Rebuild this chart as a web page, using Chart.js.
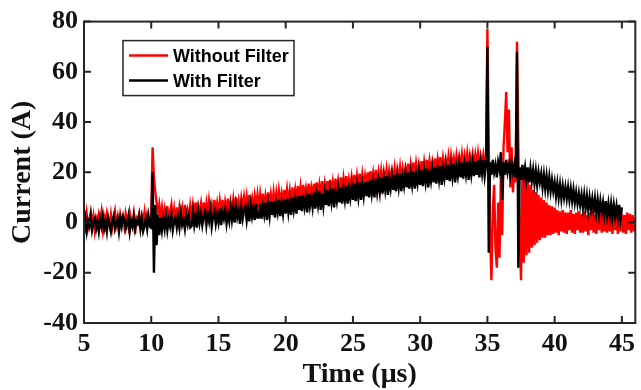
<!DOCTYPE html>
<html>
<head>
<meta charset="utf-8">
<script src="https://cdn.jsdelivr.net/npm/chart.js@4.4.1/dist/chart.umd.min.js"></script>
<style>
  html, body { margin: 0; padding: 0; background: #fff; }
  #wrap { width: 641px; height: 390px; }
</style>
</head>
<body>
<div id="wrap"><canvas id="currentChart" width="641" height="390"></canvas></div>
<script>
// scope traces, one sample every 0.1 us starting at 5 us
const T_START = 5;
const T_STEP = 0.1;

const X_TICKS = [5, 10, 15, 20, 25, 30, 35, 40, 45];
const Y_TICKS = [-40, -20, 0, 20, 40, 60, 80];

const SERIES_NAMES = ['Without Filter', 'With Filter'];

// current without filter [A], 5.0 .. 46.0 us (one row per us)
const WITHOUT_FILTER = [
  2, -1.5, 3.5, -2, 1, 4, -1, 2.5, -3, 1.5,
  -1, 3, 0, 4, -2.5, 2, -1, 3.5, 0.5, -1.5,
  3, -2, 1.5, 4.5, -1, 2, -3.5, 3, 0, 2.5,
  -1.5, 3.5, 0.5, -2, 4, 1, -1, 3, -4.5, 2,
  1, 3.5, -1.5, 2.5, 0, 4, -2, 3, 0.5, -1,
  2, 30, 18, 12, 8, 3, 7, 2, 6, 1,
  5, 0, 6.5, 1, 4, 7, 0.5, 5, -1, 6,
  1, 6, 2, 5.5, 0, 7, 2.5, 5, 1, 6.5,
  2, 7, 3, 8, 1.5, 6.5, 4, 7.5, 2, 8,
  3, 7.5, 2.5, 8.5, 4, 7, 2, 9, 3.5, 7.5,
  3, 8.5, 4, 9, 2.5, 8, 4.5, 9.5, 3, 8,
  4, 9, 3.5, 10, 5, 8.5, 4, 9.5, 5.5, 10,
  5, 10, 4.5, 11, 6, 9.5, 5, 10.5, 6.5, 11,
  5.5, 11, 6, 11.5, 5, 10.5, 7, 12, 6, 11,
  6.5, 12, 7, 11.5, 6, 12.5, 8, 11.5, 7, 13,
  7.5, 13, 8, 12.5, 7, 14, 9, 13, 8, 14.5,
  9, 14, 8.5, 15, 10, 13.5, 9, 15.5, 10.5, 14,
  10, 15.5, 9.5, 16, 11, 15, 10, 16.5, 11.5, 15.5,
  11, 16.5, 10.5, 17, 12, 16, 11, 17.5, 12.5, 16.5,
  12, 18, 11.5, 17.5, 13, 18.5, 12, 17, 13.5, 18,
  13.5, 19, 13, 18.5, 14, 19.5, 13, 19, 14.5, 18.5,
  14.5, 20, 14, 20.5, 15.5, 19.5, 14.5, 21, 16, 20,
  15.5, 20.5, 15, 20, 16.5, 21, 15.5, 20.5, 17, 20.5,
  16.5, 21.5, 16, 21, 17.5, 22, 16.5, 21.5, 18, 21.5,
  18, 23.5, 17.5, 23, 19, 24, 18, 23.5, 19.5, 23,
  19, 24.5, 18.5, 24, 20, 25, 19, 24.5, 20.5, 24,
  20, 25.5, 19.5, 25, 21, 26, 20, 25.5, 21.5, 25,
  21, 26, 20.5, 26.5, 22, 25.5, 21, 26.5, 22.5, 26,
  22, 27, 21.5, 26.5, 23, 27.5, 22, 26.5, 23, 27,
  22.5, 27, 23, 27.5, 22, 26.5, 23.5, 27, 22.5, 26,
  77, 30, -5, -23, 5, 15, -10, -18, 8, -14,
  18, -5, 30, 40, 52, 28, 45, 14, 30, 12,
  22, 16, 72, 30, -5, -23, 18, -16, 20, -13,
  17, -12, 15, -10, 13, -9, 12, -8, 11, -7,
  10, -6, 9, -6, 8, -5, 7, -5, 6.5, -4.5,
  6, -4, 5, -5, 4.5, -3.5, 5, -4, 4, -4.5,
  4, -3, 5, -4, 3.5, -4.5, 4, -3, 4.5, -4,
  3.5, -4, 4.5, -3.5, 3, -5, 4, -3, 5, -4,
  3, -4.5, 4, -3, 3.5, -4, 4.5, -3.5, 3, -4,
  4, -3.5, 3, -4.5, 3.5, -3, 4, -4.5, 3, -3.5,
  3.5, -4, 3, -4.5, 4, -3, 3.5, -4, 3, -3.5,
  2
];

// current with filter [A], 5.0 .. 45.0 us (one row per us)
const WITH_FILTER = [
  -2.5, 1.5, -3.5, 0.5, -1.5, 2.5, -3, 0, 1.5, -2.5,
  0.5, -3.5, 1.5, -1.5, 2.5, -2.5, 0.5, -3.5, 2, -0.5,
  -3.5, 0.5, 2.5, -2.5, -0.5, 1.5, -3.5, 1.5, -1.5, 2.5,
  1.5, -2.5, -0.5, 2.5, -3.5, 0.5, -1.5, 2.5, -2.5, 0.5,
  -0.5, 2.5, -2.5, 1.5, -3.5, -1.5, 1.5, -2.5, 2.5, -1.5,
  -2, 20, -20, 7, -9, 3, -5, 2, -3, 1.5,
  -2.5, 2.5, -3, 1, -1.5, 3, -3, 0.5, 2, -2,
  2, -2, 3.5, -1, 1, -2.5, 3, -0.5, 2.5, -2,
  -1.5, 4, -1, 3, -2, 4.5, 0, 3.5, -1, 2.5,
  4.5, -1, 3.5, 0.5, 5, -1.5, 2.5, 4.5, -0.5, 3,
  0, 5.5, -1, 4, 1.5, 5, -0.5, 3.5, 0.5, 6,
  1, 5.5, 0, 6.5, 2, 4.5, -0.5, 6, 1.5, 5,
  6.5, 1, 5.5, 0.5, 7, 2.5, 6, 1, 7.5, 2,
  2, 7.5, 1.5, 6.5, 3, 8, 1, 7, 2.5, 8.5,
  3, 8.5, 2, 7.5, 4, 9, 2.5, 8, 3.5, 9,
  3.5, 9.5, 4, 8.5, 3, 10, 5, 9, 3.5, 10.5,
  5, 10.5, 4.5, 11, 6, 9.5, 4, 11.5, 6.5, 10,
  6, 12, 5.5, 11, 7, 12.5, 5, 11.5, 6.5, 12,
  7, 13, 6.5, 12.5, 8, 13.5, 6, 12, 8.5, 13.5,
  8, 14, 7.5, 13.5, 9, 14.5, 7.5, 13, 9.5, 14.5,
  9, 15.5, 8.5, 14.5, 10, 16, 9, 15, 10.5, 16,
  10.5, 16.5, 10, 17, 11.5, 16, 10, 17.5, 12, 16.5,
  12, 18, 11.5, 17.5, 13, 18.5, 11, 17, 13.5, 18.5,
  13, 19, 12.5, 18.5, 14, 19.5, 12.5, 18, 14.5, 19.5,
  14, 20, 13.5, 19.5, 15, 20.5, 13.5, 19, 15.5, 20.5,
  15, 21, 14.5, 20.5, 16, 21.5, 14, 20, 16.5, 21.5,
  16, 22, 15.5, 21.5, 17, 22.5, 15, 21, 17.5, 22.5,
  17, 23, 16.5, 22.5, 18, 23.5, 16, 22, 18.5, 23.5,
  18, 24, 17.5, 23, 19, 24.5, 17, 23.5, 19, 24,
  18.5, 24.5, 19, 25, 18, 24, 19.5, 25, 18.5, 23,
  70, -12, 24, 19, 25, 20, 23, 18, 24, 21,
  28, 9, 24, 19, 25, 20, 23, 19, 24, 20,
  23, 18, 68, -18, 22, 17, 23, 18, 22, 17,
  22, 16, 21.5, 16.5, 21, 15.5, 20.5, 15, 20, 16,
  19.5, 14, 19, 13.5, 18.5, 13, 18, 12.5, 17, 12.5,
  16, 10.5, 15.5, 10, 15, 9.5, 14.5, 10, 14, 9.5,
  14, 9, 13.5, 8.5, 13, 8, 12, 7.5, 11.5, 7,
  11, 6, 11, 5.5, 10.5, 5, 10, 5.5, 9.5, 4.5,
  9.5, 4, 9, 3.5, 8.5, 4, 8, 3, 8.5, 3,
  7.5, 2.5, 7.5, 2, 7, 2.5, 6.5, 1.5, 7, 1.5,
  6
];

const toPoints = vals => vals.map((v, i) => ({ x: +(T_START + i * T_STEP).toFixed(1), y: v }));

const SERIF = "'Liberation Serif', 'Times New Roman', serif";
const SANS = "'Liberation Sans', Arial, sans-serif";
const AXIS_INK = '#262626';

// MATLAB style box with inward ticks on all four sides
const boxFrame = {
  id: 'boxFrame',
  afterDatasetsDraw(chart) {
    const { ctx, chartArea: a, scales: { x, y } } = chart;
    ctx.save();
    ctx.strokeStyle = AXIS_INK;
    ctx.lineWidth = 2;
    ctx.strokeRect(a.left, a.top, a.right - a.left, a.bottom - a.top);
    ctx.beginPath();
    x.ticks.forEach(t => {
      const px = x.getPixelForValue(t.value);
      ctx.moveTo(px, a.bottom); ctx.lineTo(px, a.bottom - 7);
      ctx.moveTo(px, a.top); ctx.lineTo(px, a.top + 7);
    });
    y.ticks.forEach(t => {
      const py = y.getPixelForValue(t.value);
      ctx.moveTo(a.left, py); ctx.lineTo(a.left + 7, py);
      ctx.moveTo(a.right, py); ctx.lineTo(a.right - 7, py);
    });
    ctx.stroke();
    ctx.restore();
  }
};

// boxed legend in the upper left of the plot
const boxLegend = {
  id: 'boxLegend',
  afterDraw(chart) {
    const { ctx, chartArea: a } = chart;
    const left = a.left + 39, top = a.top + 19, w = 171, h = 55;
    ctx.save();
    ctx.fillStyle = '#fff';
    ctx.fillRect(left, top, w, h);
    ctx.strokeStyle = AXIS_INK;
    ctx.lineWidth = 1.5;
    ctx.strokeRect(left, top, w, h);
    ctx.font = `bold 18px ${SANS}`;
    ctx.textBaseline = 'middle';
    chart.data.datasets.forEach((ds, i) => {
      const cy = top + 15 + i * 25;
      ctx.strokeStyle = ds.borderColor;
      ctx.lineWidth = 2.5;
      ctx.beginPath();
      ctx.moveTo(left + 6, cy);
      ctx.lineTo(left + 45, cy);
      ctx.stroke();
      ctx.fillStyle = '#000';
      ctx.fillText(ds.label, left + 50, cy + 1);
    });
    ctx.restore();
  }
};

new Chart(document.getElementById('currentChart'), {
  type: 'line',
  data: {
    datasets: [
      {
        label: SERIES_NAMES[0],
        data: toPoints(WITHOUT_FILTER),
        borderColor: '#ff0000',
        borderWidth: 2.4,
        pointRadius: 0,
        tension: 0,
        order: 2,
      },
      {
        label: SERIES_NAMES[1],
        data: toPoints(WITH_FILTER),
        borderColor: '#000000',
        borderWidth: 2.4,
        pointRadius: 0,
        tension: 0,
        order: 1,
      },
    ],
  },
  options: {
    responsive: false,
    animation: false,
    layout: { padding: { top: 14, right: 5, left: 0, bottom: 0 } },
    plugins: {
      legend: { display: false },
      tooltip: { enabled: false },
    },
    scales: {
      x: {
        type: 'linear',
        min: 5,
        max: 46,
        afterFit: s => { s.height = 67; },
        afterBuildTicks: s => { s.ticks = X_TICKS.map(v => ({ value: v })); },
        grid: { display: false, drawTicks: false },
        border: { display: false },
        ticks: {
          padding: 6,
          maxRotation: 0,
          autoSkip: false,
          color: '#111',
          font: { family: SERIF, size: 26, weight: 'bold' },
        },
        title: {
          display: true,
          text: 'Time (μs)',
          color: '#111',
          padding: { top: 0, bottom: 1 },
          font: { family: SERIF, size: 28, weight: 'bold', lineHeight: 1 },
        },
      },
      y: {
        min: -40,
        max: 80,
        afterFit: s => { s.width = 84; },
        afterBuildTicks: s => { s.ticks = Y_TICKS.map(v => ({ value: v })); },
        grid: { display: false, drawTicks: false },
        border: { display: false },
        ticks: {
          padding: 6,
          autoSkip: false,
          color: '#111',
          font: { family: SERIF, size: 26, weight: 'bold' },
        },
        title: {
          display: true,
          text: 'Current (A)',
          color: '#111',
          padding: { top: 9, bottom: 0 },
          font: { family: SERIF, size: 28, weight: 'bold', lineHeight: 1 },
        },
      },
    },
  },
  plugins: [boxFrame, boxLegend],
});
</script>
</body>
</html>
